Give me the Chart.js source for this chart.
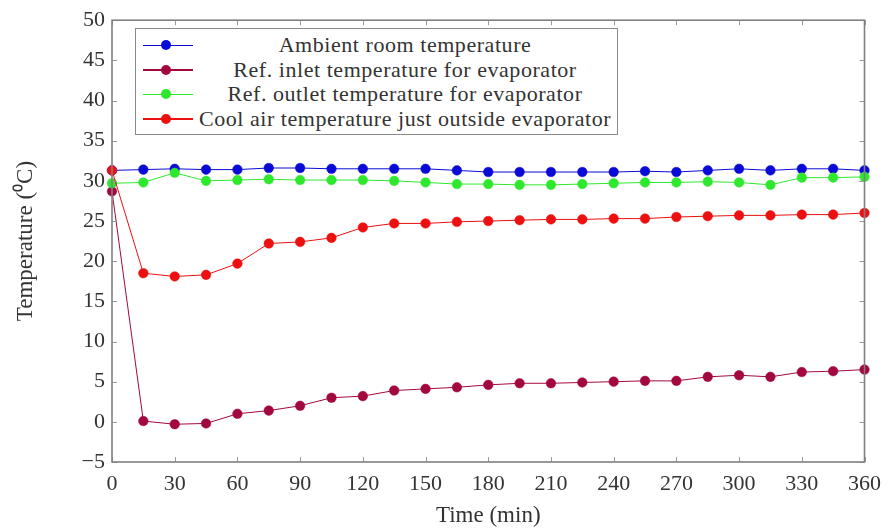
<!DOCTYPE html>
<html>
<head>
<meta charset="utf-8">
<script src="https://cdn.jsdelivr.net/npm/chart.js@4.4.1/dist/chart.umd.min.js"></script>
<style>
  html, body { margin: 0; padding: 0; background: #fff; }
  #wrap { position: relative; width: 890px; height: 532px; }
  #legend {
    position: absolute; left: 135px; top: 28px; width: 483px; height: 107px;
    border: 1.5px solid #8a8a8a; background: #fff; box-sizing: border-box;
    padding-top: 4px; font-family: "Liberation Serif", serif; font-size: 22px; letter-spacing: 0.55px; color: #333;
  }
  .row { display: flex; align-items: center; height: 24.5px; }
  .sample { position: relative; width: 54px; height: 24px; flex: none; margin-left: 5px; }
  .sample .ln { position: absolute; left: 2px; right: 2px; top: 11.5px; height: 1.5px; }
  .sample .dot { position: absolute; left: 20px; top: 7px; width: 10px; height: 10px; border-radius: 50%; }
  .txt { flex: 1; text-align: center; white-space: nowrap; padding-right: 2px; }
</style>
</head>
<body>
<div id="wrap">
  <canvas id="c" width="890" height="532"></canvas>
  <div id="legend"></div>
</div>
<script>
const times = [0,15,30,45,60,75,90,105,120,135,150,165,180,195,210,225,240,255,270,285,300,315,330,345,360];
const ambient   = [31.3,31.4,31.5,31.4,31.4,31.6,31.6,31.5,31.5,31.5,31.5,31.3,31.1,31.1,31.1,31.1,31.1,31.2,31.1,31.3,31.5,31.3,31.5,31.5,31.3];
const refInlet  = [28.7,0.1,-0.3,-0.2,1.0,1.4,2.0,3.0,3.2,3.9,4.1,4.3,4.6,4.8,4.8,4.9,5.0,5.1,5.1,5.6,5.8,5.6,6.2,6.3,6.5];
const refOutlet = [29.7,29.8,31.0,30.0,30.1,30.2,30.1,30.1,30.1,30.0,29.8,29.6,29.6,29.5,29.5,29.6,29.7,29.8,29.8,29.9,29.8,29.5,30.4,30.4,30.5];
const coolAir   = [31.3,18.5,18.1,18.3,19.7,22.2,22.4,22.9,24.2,24.7,24.7,24.9,25.0,25.1,25.2,25.2,25.3,25.3,25.5,25.6,25.7,25.7,25.8,25.8,26.0];
const seriesLabels = [
  "Ambient room temperature",
  "Ref. inlet temperature for evaporator",
  "Ref. outlet temperature for evaporator",
  "Cool air temperature just outside evaporator"
];
const seriesColors = ["#0a0ad6", "#a3073f", "#2ee82e", "#ec1010"];
const xTickStep = 30, xMin = 0, xMax = 360;
const yTickStep = 5, yMin = -5, yMax = 50;
const xTitle = "Time (min)";
const yTitle = "Temperature (\u2070C)";

const seriesValues = [ambient, refInlet, refOutlet, coolAir];
const FONT = "Liberation Serif";

const datasets = seriesValues.map((vals, i) => ({
  label: seriesLabels[i],
  data: times.map((t, k) => ({ x: t, y: vals[k] })),
  borderColor: seriesColors[i],
  backgroundColor: seriesColors[i],
  pointBackgroundColor: seriesColors[i],
  pointBorderColor: seriesColors[i],
  borderWidth: 1,
  pointRadius: 4.8,
  pointBorderWidth: 0.5,
  tension: 0,
  clip: false,
  order: 4 - i
}));

const frame = {
  id: 'frame',
  afterDatasetsDraw(chart) {
    const { ctx, chartArea: a, scales: { x, y } } = chart;
    ctx.save();
    ctx.strokeStyle = '#9a9a9a';
    ctx.lineWidth = 1;
    const tl = 5;
    x.ticks.forEach(t => {
      const px = Math.round(x.getPixelForValue(t.value)) + 0.5;
      ctx.beginPath();
      ctx.moveTo(px, a.bottom); ctx.lineTo(px, a.bottom - tl);
      ctx.moveTo(px, a.top); ctx.lineTo(px, a.top + tl);
      ctx.stroke();
    });
    y.ticks.forEach(t => {
      const py = Math.round(y.getPixelForValue(t.value)) + 0.5;
      ctx.beginPath();
      ctx.moveTo(a.left, py); ctx.lineTo(a.left + tl, py);
      ctx.moveTo(a.right, py); ctx.lineTo(a.right - tl, py);
      ctx.stroke();
    });
    ctx.strokeStyle = '#808080';
    ctx.lineWidth = 1.6;
    ctx.strokeRect(a.left, a.top, a.right - a.left, a.bottom - a.top);
    ctx.restore();
  }
};

const minusFmt = v => String(v).replace('-', '\u2212');

new Chart(document.getElementById('c'), {
  type: 'line',
  data: { datasets },
  options: {
    responsive: false,
    devicePixelRatio: 1,
    animation: false,
    layout: { padding: { top: 15, right: 20, left: 0, bottom: 0 } },
    plugins: { legend: { display: false }, tooltip: { enabled: false } },
    scales: {
      x: {
        type: 'linear', min: xMin, max: xMax,
        grid: { display: false, drawTicks: false },
        border: { display: false },
        ticks: { stepSize: xTickStep, padding: 9, maxRotation: 0, color: '#333', font: { family: FONT, size: 22 } },
        title: { display: true, text: xTitle, color: '#333', padding: { top: 0, bottom: 2 }, font: { family: FONT, size: 23 } },
        afterFit(s) { s.height = 70; }
      },
      y: {
        type: 'linear', min: yMin, max: yMax,
        grid: { display: false, drawTicks: false },
        border: { display: false },
        ticks: { stepSize: yTickStep, padding: 7, color: '#333', font: { family: FONT, size: 22 }, callback: minusFmt },
        title: { display: true, text: yTitle, color: '#333', padding: { top: 12, bottom: 0 }, font: { family: FONT, size: 23 } },
        afterFit(s) { s.width = 112; }
      }
    }
  },
  plugins: [frame]
});

const leg = document.getElementById('legend');
seriesLabels.forEach((lab, i) => {
  const row = document.createElement('div');
  row.className = 'row';
  const s = document.createElement('div');
  s.className = 'sample';
  const ln = document.createElement('div'); ln.className = 'ln'; ln.style.background = seriesColors[i];
  const dot = document.createElement('div'); dot.className = 'dot'; dot.style.background = seriesColors[i];
  s.appendChild(ln); s.appendChild(dot);
  const t = document.createElement('div'); t.className = 'txt'; t.textContent = lab;
  row.appendChild(s); row.appendChild(t);
  leg.appendChild(row);
});
</script>
</body>
</html>
